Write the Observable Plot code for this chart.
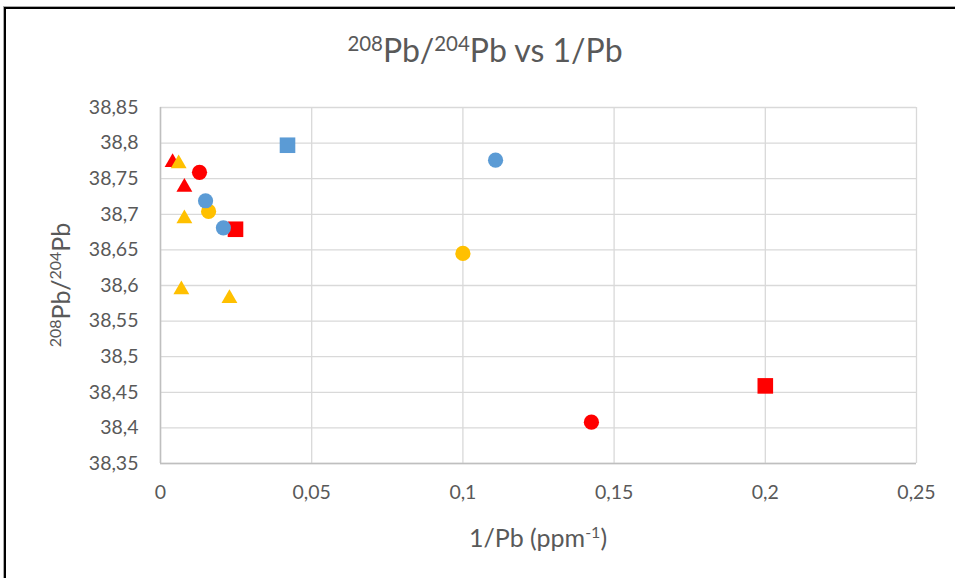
<!DOCTYPE html>
<html>
<head>
<meta charset="utf-8">
<script src="https://cdn.jsdelivr.net/npm/d3@7"></script>
<script src="https://cdn.jsdelivr.net/npm/@observablehq/plot@0.6"></script>
<style>
  html, body { margin: 0; padding: 0; background: #fff; }
  #wrap { position: relative; width: 955px; height: 578px; overflow: hidden; font-family: Lato, "Open Sans", sans-serif; color: #595959; }
  #frame { position: absolute; left: 4px; top: 7px; right: -10px; bottom: -10px; border-top: 2px solid #000; border-left: 2px solid #000; box-shadow: -1px -1px 0 #aaa; pointer-events: none; }
  #title { position: absolute; left: 485px; top: 50px; transform: translate(-50%, -50%); font-size: 32px; line-height: 36px; white-space: nowrap; }
  #ylab { position: absolute; left: 60px; top: 285px; transform: translate(-50%, -50%) rotate(-90deg); font-size: 25px; white-space: nowrap; }
  #xlab { position: absolute; left: 538px; top: 537px; transform: translate(-50%, -50%); font-size: 25px; white-space: nowrap; }
  sup { font-size: 0.64em; vertical-align: 0.55em; line-height: 0; }
  #chart { position: absolute; left: 0; top: 0; }
</style>
</head>
<body>
<div id="wrap">
  <div id="chart"></div>
  <div id="frame"></div>
  <div id="title"><sup>208</sup>Pb/<sup>204</sup>Pb vs 1/Pb</div>
  <div id="ylab"><sup>208</sup>Pb/<sup>204</sup>Pb</div>
  <div id="xlab">1/Pb (ppm<sup>-1</sup>)</div>
</div>
<script>
// Data
const xValues = [0.0040, 0.0079, 0.0129, 0.1425, 0.0248, 0.2000,
                 0.0060, 0.0079, 0.0069, 0.0228, 0.0159, 0.1000,
                 0.0149, 0.0208, 0.1108, 0.0420];
const yValues = [38.773, 38.738, 38.759, 38.408, 38.679, 38.459,
                 38.771, 38.694, 38.594, 38.582, 38.704, 38.645,
                 38.719, 38.681, 38.776, 38.797];
const series  = ["red","red","red","red","red","red",
                 "yellow","yellow","yellow","yellow","yellow","yellow",
                 "blue","blue","blue","blue"];
const shapes  = ["triangle","triangle","circle","circle","square","square",
                 "triangle","triangle","triangle","triangle","circle","circle",
                 "circle","circle","circle","square"];
const seriesOrder = ["red","yellow","blue"];
const seriesColors = {red: "#FF0000", yellow: "#FFC000", blue: "#5B9BD5"};
const xTicks = [0, 0.05, 0.1, 0.15, 0.2, 0.25];
const yTicks = [38.35, 38.4, 38.45, 38.5, 38.55, 38.6, 38.65, 38.7, 38.75, 38.8, 38.85];

const data = xValues.map((x, i) => ({x, y: yValues[i], series: series[i], shape: shapes[i]}));
const fmt = d => String(+d.toFixed(2)).replace(".", ",");
const radius = {circle: 7.6, square: 8.8, triangle: 5.9};

const pointMarks = [];
for (const s of seriesOrder) {
  for (const sh of ["triangle", "circle", "square"]) {
    const sub = data.filter(d => d.series === s && d.shape === sh);
    if (sub.length) pointMarks.push(Plot.dot(sub, {x: "x", y: "y", symbol: sh, r: radius[sh], fill: seriesColors[s], stroke: "none"}));
  }
}

const chart = Plot.plot({
  width: 955,
  height: 578,
  marginLeft: 160,
  marginRight: 39,
  marginTop: 107,
  marginBottom: 115,
  style: {fontFamily: "Lato, 'Open Sans', sans-serif", fontSize: "19.5px", color: "#595959", background: "transparent"},
  x: {domain: [0, 0.25]},
  y: {domain: [38.35, 38.85]},
  marks: [
    Plot.gridX(xTicks, {stroke: "#d9d9d9", strokeOpacity: 1, strokeWidth: 1.3}),
    Plot.gridY(yTicks, {stroke: "#d9d9d9", strokeOpacity: 1, strokeWidth: 1.3}),
    Plot.ruleX([0], {stroke: "#bfbfbf", strokeWidth: 1.5}),
    Plot.ruleY([38.35], {stroke: "#bfbfbf", strokeWidth: 1.3}),
    Plot.axisX(xTicks, {tickSize: 0, tickPadding: 22, tickFormat: fmt, label: null, fontSize: 19.5}),
    Plot.axisY(yTicks, {tickSize: 0, tickPadding: 22, tickFormat: fmt, label: null, fontSize: 19.5}),
    ...pointMarks
  ]
});
document.getElementById("chart").appendChild(chart);
</script>
</body>
</html>
